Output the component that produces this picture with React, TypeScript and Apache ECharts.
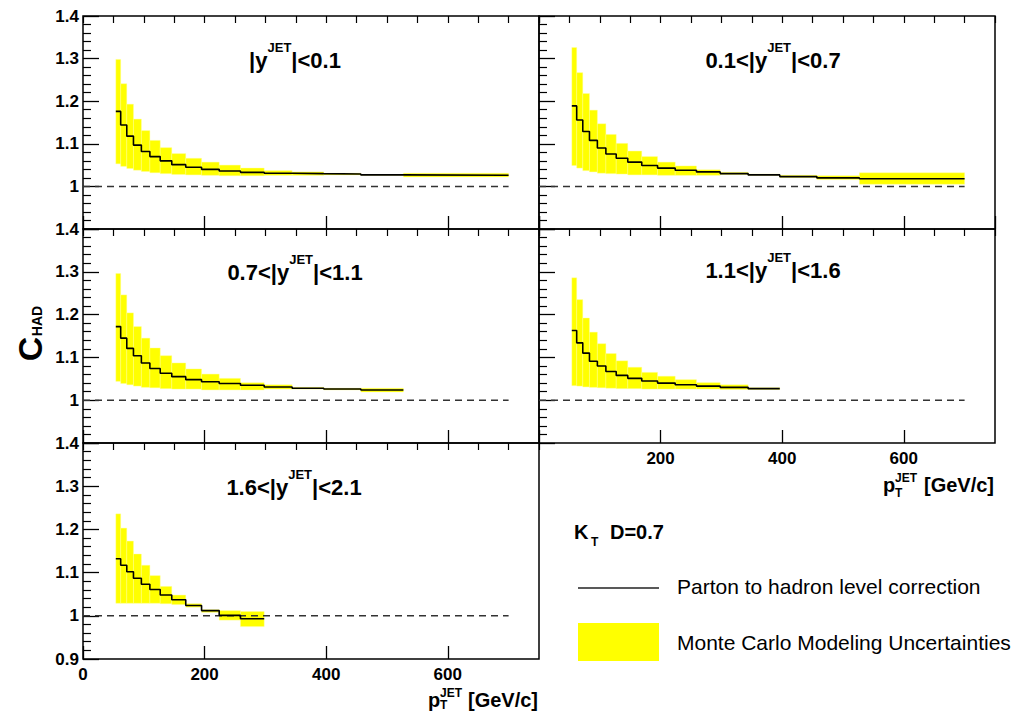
import React, { useEffect, useRef } from "react";
import * as echarts from "echarts";

// ---- Data ----
const binEdges = [54, 62, 72, 83, 96, 110, 127, 146, 169, 195, 224, 259, 298, 344, 396, 457, 527, 700];

const rapidityLow = ["", "0.1<", "0.7<", "1.1<", "1.6<"];
const rapidityHigh = ["0.1", "0.7", "1.1", "1.6", "2.1"];

// |y| < 0.1
const corr1 = [1.176, 1.144, 1.118, 1.097, 1.082, 1.070, 1.060, 1.051, 1.045, 1.040, 1.036, 1.033, 1.031, 1.030, 1.029, 1.027, 1.026];
const upper1 = [1.298, 1.241, 1.193, 1.158, 1.131, 1.108, 1.091, 1.077, 1.066, 1.057, 1.050, 1.043, 1.037, 1.034, 1.031, 1.028, 1.031];
const lower1 = [1.053, 1.047, 1.042, 1.038, 1.035, 1.032, 1.030, 1.028, 1.027, 1.026, 1.025, 1.025, 1.026, 1.026, 1.027, 1.026, 1.022];
// 0.1 < |y| < 0.7
const corr2 = [1.189, 1.156, 1.129, 1.108, 1.090, 1.076, 1.066, 1.057, 1.049, 1.043, 1.038, 1.034, 1.030, 1.027, 1.023, 1.020, 1.018];
const upper2 = [1.326, 1.267, 1.218, 1.179, 1.147, 1.122, 1.101, 1.083, 1.070, 1.057, 1.048, 1.039, 1.033, 1.029, 1.026, 1.025, 1.032];
const lower2 = [1.049, 1.043, 1.037, 1.034, 1.031, 1.030, 1.029, 1.027, 1.027, 1.026, 1.026, 1.026, 1.028, 1.026, 1.021, 1.016, 1.005];
// 0.7 < |y| < 1.1
const corr3 = [1.172, 1.145, 1.121, 1.104, 1.087, 1.074, 1.063, 1.055, 1.048, 1.043, 1.039, 1.035, 1.031, 1.028, 1.026, 1.024];
const upper3 = [1.296, 1.246, 1.204, 1.172, 1.145, 1.122, 1.104, 1.087, 1.073, 1.061, 1.051, 1.041, 1.036, 1.030, 1.028, 1.028];
const lower3 = [1.044, 1.039, 1.036, 1.033, 1.030, 1.029, 1.027, 1.026, 1.026, 1.024, 1.024, 1.024, 1.026, 1.026, 1.024, 1.019];
// 1.1 < |y| < 1.6
const corr4 = [1.163, 1.134, 1.110, 1.091, 1.080, 1.067, 1.058, 1.051, 1.045, 1.040, 1.036, 1.033, 1.030, 1.027];
const upper4 = [1.286, 1.235, 1.192, 1.159, 1.132, 1.109, 1.092, 1.077, 1.065, 1.056, 1.048, 1.041, 1.036, 1.029];
const lower4 = [1.034, 1.033, 1.031, 1.030, 1.029, 1.028, 1.027, 1.027, 1.026, 1.026, 1.026, 1.026, 1.025, 1.025];
// 1.6 < |y| < 2.1
const corr5 = [1.132, 1.117, 1.102, 1.087, 1.073, 1.061, 1.048, 1.037, 1.024, 1.012, 1.001, 0.993];
const upper5 = [1.236, 1.203, 1.173, 1.143, 1.117, 1.093, 1.068, 1.048, 1.028, 1.014, 1.012, 1.010];
const lower5 = [1.029, 1.029, 1.029, 1.029, 1.029, 1.029, 1.028, 1.026, 1.020, 1.008, 0.990, 0.975];

const refLineX = [0, 700];
const refLineY = 1;

const xMin = 0;
const xMax = 750;
const yMin = 0.9;
const yMax = 1.4;

const corrs = [corr1, corr2, corr3, corr4, corr5];
const uppers = [upper1, upper2, upper3, upper4, upper5];
const lowers = [lower1, lower2, lower3, lower4, lower5];

// ---- Layout ----
const FONT = "'Liberation Sans', Arial, Helvetica, sans-serif";
const grids = [
  { left: 83, top: 16, width: 456, height: 213 },
  { left: 539, top: 16, width: 456, height: 213 },
  { left: 83, top: 229, width: 456, height: 214 },
  { left: 539, top: 229, width: 456, height: 214 },
  { left: 83, top: 443, width: 456, height: 216 },
];
const titlePos = [
  [295, 41],
  [773, 41],
  [295, 253],
  [773, 251],
  [294, 468],
];

function buildOption() {
  const xAxes: any[] = [];
  const yAxes: any[] = [];
  const series: any[] = [];
  const n = grids.length;

  for (let i = 0; i < n; i++) {
    const showXLabels = i === 4 || i === 3;
    xAxes.push({
      gridIndex: i,
      type: "value",
      min: xMin,
      max: xMax,
      interval: 200,
      axisLine: { show: false },
      axisTick: { show: true, inside: true, length: 13, lineStyle: { color: "#000", width: 1.3 } },
      splitLine: { show: false },
      axisLabel: {
        show: showXLabels,
        showMaxLabel: false,
        showMinLabel: i === 4,
        color: "#000",
        fontWeight: "bold",
        fontSize: 17,
        fontFamily: FONT,
        margin: 7,
      },
    });
  }
  for (let i = 0; i < n; i++) {
    xAxes.push({
      gridIndex: i,
      type: "value",
      min: xMin,
      max: xMax,
      interval: 50,
      axisLine: { show: false },
      axisTick: { show: true, inside: true, length: 7, lineStyle: { color: "#000", width: 1.2 } },
      splitLine: { show: false },
      axisLabel: { show: false },
    });
  }
  for (let i = 0; i < n; i++) {
    const leftCol = i % 2 === 0;
    yAxes.push({
      gridIndex: i,
      type: "value",
      min: yMin,
      max: yMax,
      interval: 0.1,
      axisLine: { show: false },
      axisTick: { show: true, inside: true, length: 16, lineStyle: { color: "#000", width: 1.3 } },
      minorTick: { show: true, splitNumber: 5, length: 8, lineStyle: { color: "#000", width: 1.2 } },
      splitLine: { show: false },
      minorSplitLine: { show: false },
      axisLabel: {
        show: leftCol,
        showMinLabel: i === 4,
        showMaxLabel: true,
        color: "#000",
        fontWeight: "bold",
        fontSize: 17,
        fontFamily: FONT,
        margin: 4,
        formatter: (v: number) => (Math.abs(v - 1) < 1e-9 ? "1" : v.toFixed(1)),
      },
    });
  }

  for (let i = 0; i < n; i++) {
    const c = corrs[i];
    const up = uppers[i];
    const lo = lowers[i];
    const bandData = c.map((_, k) => [binEdges[k], binEdges[k + 1], lo[k], up[k]]);
    const stepData: number[][] = [];
    c.forEach((v, k) => {
      stepData.push([binEdges[k], v]);
      stepData.push([binEdges[k + 1], v]);
    });
    series.push({
      type: "custom",
      xAxisIndex: i,
      yAxisIndex: i,
      silent: true,
      z: 1,
      encode: { x: [0, 1], y: [2, 3] },
      data: bandData,
      renderItem: (params: any, api: any) => {
        const p0 = api.coord([api.value(0), api.value(3)]);
        const p1 = api.coord([api.value(1), api.value(2)]);
        return {
          type: "rect",
          shape: { x: p0[0], y: p0[1], width: p1[0] - p0[0], height: p1[1] - p0[1] },
          style: { fill: "#ffff00", stroke: "rgba(255,255,150,0.8)", lineWidth: 0.5 },
        };
      },
    });
    series.push({
      type: "line",
      xAxisIndex: i,
      yAxisIndex: i,
      silent: true,
      z: 3,
      symbol: "none",
      showSymbol: false,
      data: stepData,
      lineStyle: { color: "#000", width: 1.6 },
    });
    series.push({
      type: "line",
      xAxisIndex: i,
      yAxisIndex: i,
      silent: true,
      z: 2,
      symbol: "none",
      showSymbol: false,
      data: refLineX.map((x) => [x, refLineY]),
      lineStyle: { color: "#333", width: 1.5, type: [7, 5] },
    });
  }

  const titleRich = {
    a: { fontSize: 22, fontWeight: "bold", fontFamily: FONT, lineHeight: 30, verticalAlign: "bottom", fill: "#000", color: "#000" },
    s: { fontSize: 13, fontWeight: "bold", fontFamily: FONT, lineHeight: 13, verticalAlign: "top", fill: "#000", color: "#000" },
  };

  const graphic: any[] = [];
  for (let i = 0; i < n; i++) {
    graphic.push({
      type: "text",
      x: titlePos[i][0],
      y: titlePos[i][1],
      silent: true,
      style: {
        text: `{a|${rapidityLow[i]}|y}{s|JET}{a||<${rapidityHigh[i]}}`,
        rich: titleRich,
        align: "center",
        verticalAlign: "top",
        textAlign: "center",
        textVerticalAlign: "top",
      },
    });
  }

  const txt = (text: string, x: number, y: number, size: number, bold: boolean, align = "left", rotation = 0) => ({
    type: "text",
    x,
    y,
    rotation,
    silent: true,
    style: {
      text,
      fill: "#000",
      font: `${bold ? "bold " : ""}${size}px ${FONT}`,
      align,
      verticalAlign: "middle",
      textAlign: align,
      textVerticalAlign: "middle",
    },
  });

  // y-axis title C_HAD
  graphic.push(txt("C", 30, 349, 34, true, "center", Math.PI / 2));
  graphic.push(txt("HAD", 37, 321, 14, true, "center", Math.PI / 2));

  // x-axis title (bottom-left)
  graphic.push(txt("p", 428, 700, 20, true));
  graphic.push(txt("JET", 440, 693, 12, true));
  graphic.push(txt("T", 440, 705, 12, true));
  graphic.push(txt("[GeV/c]", 538, 700, 20, true, "right"));
  // x-axis title (right column)
  graphic.push(txt("p", 883, 485, 20, true));
  graphic.push(txt("JET", 895, 478, 12, true));
  graphic.push(txt("T", 895, 493, 12, true));
  graphic.push(txt("[GeV/c]", 994, 485, 20, true, "right"));

  // legend block
  graphic.push(txt("K", 574, 532, 20, true));
  graphic.push(txt("T", 591, 542, 12, true));
  graphic.push(txt("D=0.7", 610, 532, 20, true));
  graphic.push({
    type: "line",
    silent: true,
    shape: { x1: 578, y1: 588, x2: 659, y2: 588 },
    style: { stroke: "#222", lineWidth: 1.5 },
  });
  graphic.push(txt("Parton to hadron level correction", 677, 586, 21, false));
  graphic.push({
    type: "rect",
    silent: true,
    shape: { x: 578, y: 623, width: 81, height: 38 },
    style: { fill: "#ffff00" },
  });
  graphic.push(txt("Monte Carlo Modeling Uncertainties", 677, 642, 21, false));

  return {
    animation: false,
    backgroundColor: "#ffffff",
    grid: grids.map((g) => ({
      ...g,
      show: true,
      borderColor: "#000",
      borderWidth: 1.5,
      backgroundColor: "transparent",
      containLabel: false,
      outerBoundsMode: "none",
    })),
    xAxis: xAxes,
    yAxis: yAxes,
    series,
    graphic,
  };
}

export default function App() {
  const ref = useRef<HTMLDivElement>(null);
  useEffect(() => {
    if (!ref.current) return;
    const chart = echarts.init(ref.current, undefined, { renderer: "svg", width: 1025, height: 712 });
    chart.setOption(buildOption() as any);
    return () => {
      chart.dispose();
    };
  }, []);
  return (
    <div
      ref={ref}
      style={{ position: "fixed", left: 0, top: 0, width: 1025, height: 712, background: "#fff" }}
    />
  );
}
